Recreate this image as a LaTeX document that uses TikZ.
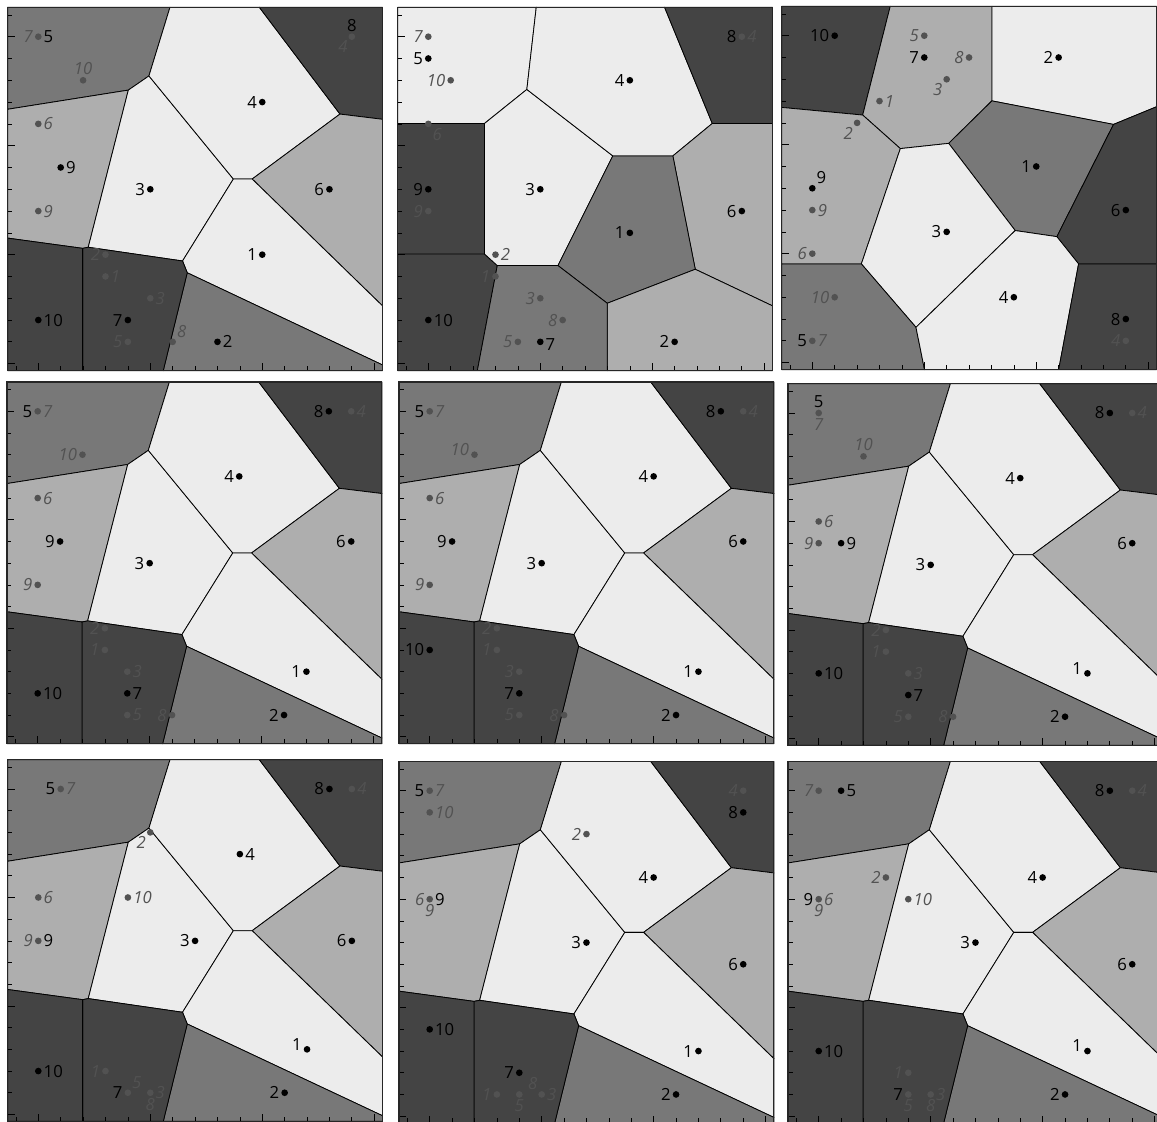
\documentclass[tikz,border=0pt]{standalone}
\usepackage{fontspec}
\setsansfont{Open Sans}
\definecolor{cW}{HTML}{ECECEC}
\definecolor{cL}{HTML}{AEAEAE}
\definecolor{cM}{HTML}{787878}
\definecolor{cD}{HTML}{444444}
\definecolor{gcol}{HTML}{525252}
\tikzset{
  reg/.style={draw=black, line width=0.45pt, line join=round},
  frm/.style={draw=black!85, line width=0.6pt},
  tk/.style={draw=black, line width=0.4pt},
  bd/.style={circle, fill=black, inner sep=0pt, minimum size=3.8pt},
  gd/.style={circle, fill=gcol, inner sep=0pt, minimum size=3.8pt},
  bl/.style={font=\sffamily\fontsize{9.5}{10}\selectfont, text=black, inner sep=0.8pt},
  gl/.style={font=\sffamily\itshape\fontsize{9.5}{10}\selectfont, text=gcol, inner sep=0.8pt},
  ul/.style={yshift=3pt},
}
\newcommand{\sharedpart}{%
 \filldraw[reg,fill=cM] (-1.37,-1.35) -- (5.88,-1.35) -- (4.94,1.80) -- (4.02,2.45) -- (-1.37,3.33) -- cycle;
 \filldraw[reg,fill=cL] (-1.37,3.33) -- (4.02,2.45) -- (2.23,9.66) -- (1.98,9.71) -- (-1.37,9.24) -- cycle;
 \filldraw[reg,fill=cW] (4.02,2.45) -- (4.94,1.80) -- (8.71,6.53) -- (6.44,10.29) -- (2.23,9.66) -- cycle;
 \filldraw[reg,fill=cW] (4.94,1.80) -- (5.88,-1.35) -- (9.87,-1.35) -- (13.47,3.55) -- (9.55,6.53) -- (8.71,6.53) -- cycle;
 \filldraw[reg,fill=cD] (9.87,-1.35) -- (15.37,-1.35) -- (15.37,3.79) -- (13.47,3.55) -- cycle;
 \filldraw[reg,fill=cL] (13.47,3.55) -- (15.37,3.79) -- (15.37,12.35) -- (9.55,6.53) -- cycle;
 \filldraw[reg,fill=cW] (8.71,6.53) -- (9.55,6.53) -- (15.37,12.35) -- (15.37,15.06) -- (6.65,10.83) -- (6.44,10.29) -- cycle;
 \filldraw[reg,fill=cM] (6.65,10.83) -- (15.37,15.06) -- (15.37,15.32) -- (5.58,15.32) -- cycle;
 \filldraw[reg,fill=cD] (1.98,9.71) -- (2.23,9.66) -- (6.44,10.29) -- (6.65,10.83) -- (5.58,15.32) -- (1.98,15.32) -- cycle;
 \filldraw[reg,fill=cD] (-1.37,9.24) -- (1.98,9.71) -- (1.98,15.32) -- (-1.37,15.32) -- cycle;
}
\newcommand{\framing}{%
 \foreach \t in {-1,...,15}{\draw[tk] (-1.37,\t) -- ++(0.2,0); \draw[tk] (\t,15.32) -- ++(0,-0.22);}
 \foreach \t in {0,5,10,15}{\draw[tk] (-1.37,\t) -- ++(0.32,0); \draw[tk] (\t,15.32) -- ++(0,-0.34);}
 \draw[frm] (-1.37,-1.35) rectangle (15.37,15.32);
}
\begin{document}
\begin{tikzpicture}[x=0.02cm, y=-0.02cm]
\useasboundingbox (0,0) rectangle (1157,1122);
\fill[white] (0,0) rectangle (1157,1122);

% ---------------- Panel 1
\begin{scope}[shift={(38.3,36.7)}, x=0.448cm, y=-0.436cm]
\sharedpart
\framing
\node[gd, label={[gl]left:7}, label={[bl]right:5}] (p1b5) at (0,0) {};
\node[gd, label={[gl]above:10}] (p1g10) at (2,2) {};
\node[gd, label={[gl]right:6}] (p1g6) at (0,4) {};
\node[bd, label={[bl]right:9}] (p1b9) at (1,6) {};
\node[gd, label={[gl]right:9}] (p1g9) at (0,8) {};
\node[bd, label={[bl]left:3}] (p1b3) at (5,7) {};
\node[bd, label={[bl]left:4}] (p1b4) at (10,3) {};
\node[bd, label={[bl]left:6}] (p1b6) at (13,7) {};
\node[bd, label={[bl]left:1}] (p1b1) at (10,10) {};
\node[gd, label={[bl]above:8}, label={[gl]below left:4}] (p1b8) at (14,0) {};
\node[gd, label={[gl]left:2}] (p1g2) at (3,10) {};
\node[gd, label={[gl]right:1}] (p1g1) at (3,11) {};
\node[gd, label={[gl]right:3}] (p1g3) at (5,12) {};
\node[bd, label={[bl]left:7}] (p1b7) at (4,13) {};
\node[gd, label={[gl]left:5}] (p1g5) at (4,14) {};
\node[gd, label={[gl]above right:8}] (p1g8) at (6,14) {};
\node[bd, label={[bl]right:2}] (p1b2) at (8,14) {};
\node[bd, label={[bl]right:10}] (p1b10) at (0,13) {};
\end{scope}

% ---------------- Panel 2
\begin{scope}[shift={(428.3,36.7)}, x=0.448cm, y=-0.436cm]
\filldraw[reg,fill=cW] (-1.37,-1.35) -- (4.82,-1.35) -- (4.40,2.42) -- (2.51,3.98) -- (-1.37,3.98) -- cycle;
\filldraw[reg,fill=cD] (-1.37,3.98) -- (2.51,3.98) -- (2.51,9.97) -- (-1.37,9.97) -- cycle;
\filldraw[reg,fill=cD] (-1.37,9.97) -- (2.51,9.97) -- (3.08,10.5) -- (2.19,15.32) -- (-1.37,15.32) -- cycle;
\filldraw[reg,fill=cW] (2.51,3.98) -- (4.40,2.42) -- (8.24,5.47) -- (5.79,10.5) -- (3.08,10.5) -- (2.51,9.97) -- cycle;
\filldraw[reg,fill=cW] (4.82,-1.35) -- (10.55,-1.35) -- (12.68,3.98) -- (10.92,5.47) -- (8.24,5.47) -- (4.40,2.42) -- cycle;
\filldraw[reg,fill=cD] (10.55,-1.35) -- (15.37,-1.35) -- (15.37,3.98) -- (12.68,3.98) -- cycle;
\filldraw[reg,fill=cL] (12.68,3.98) -- (15.37,3.98) -- (15.37,12.35) -- (11.92,10.67) -- (10.92,5.47) -- cycle;
\filldraw[reg,fill=cM] (8.24,5.47) -- (10.92,5.47) -- (11.92,10.67) -- (7.99,12.23) -- (5.79,10.5) -- cycle;
\filldraw[reg,fill=cL] (7.99,12.23) -- (11.92,10.67) -- (15.37,12.35) -- (15.37,15.32) -- (7.99,15.32) -- cycle;
\filldraw[reg,fill=cM] (3.08,10.5) -- (5.79,10.5) -- (7.99,12.23) -- (7.99,15.32) -- (2.19,15.32) -- cycle;
\framing
\node[gd, label={[gl]left:7}] (p2g7) at (0,0) {};
\node[bd, label={[bl]left:5}] (p2b5) at (0,1) {};
\node[gd, label={[gl]left:10}] (p2g10) at (1,2) {};
\node[gd, label={[gl]below right:6}] (p2g6) at (0,4) {};
\node[bd, label={[bl]left:9}] (p2b9) at (0,7) {};
\node[gd, label={[gl]left:9}] (p2g9) at (0,8) {};
\node[bd, label={[bl]left:3}] (p2b3) at (5,7) {};
\node[bd, label={[bl]left:4}] (p2b4) at (9,2) {};
\node[gd, label={[bl]left:8}, label={[gl]right:4}] (p2b8) at (14,0) {};
\node[bd, label={[bl]left:6}] (p2b6) at (14,8) {};
\node[bd, label={[bl]left:1}] (p2b1) at (9,9) {};
\node[gd, label={[gl]right:2}] (p2g2) at (3,10) {};
\node[gd, label={[gl]left:1}] (p2g1) at (3,11) {};
\node[gd, label={[gl]left:3}] (p2g3) at (5,12) {};
\node[gd, label={[gl]left:8}] (p2g8) at (6,13) {};
\node[bd, label={[bl]right:10}] (p2b10) at (0,13) {};
\node[gd, label={[gl]left:5}] (p2g5) at (4,14) {};
\node[bd, label={[bl,yshift=-1.5pt]right:7}] (p2b7) at (5,14) {};
\node[bd, label={[bl]left:2}] (p2b2) at (11,14) {};
\end{scope}

% ---------------- Panel 3
\begin{scope}[shift={(812.3,35.7)}, x=0.448cm, y=-0.436cm]
\filldraw[reg,fill=cD] (-1.37,-1.35) -- (3.48,-1.35) -- (2.25,3.64) -- (-1.37,3.29) -- cycle;
\filldraw[reg,fill=cL] (3.48,-1.35) -- (8.02,-1.35) -- (8.02,2.99) -- (6.09,4.94) -- (3.93,5.18) -- (2.25,3.64) -- cycle;
\filldraw[reg,fill=cW] (8.02,-1.35) -- (15.37,-1.35) -- (15.37,3.26) -- (13.45,4.07) -- (8.02,2.99) -- cycle;
\filldraw[reg,fill=cL] (-1.37,3.29) -- (2.25,3.64) -- (3.93,5.18) -- (2.19,10.47) -- (-1.37,10.47) -- cycle;
\filldraw[reg,fill=cM] (6.09,4.94) -- (8.02,2.99) -- (13.45,4.07) -- (10.92,9.22) -- (9.06,8.94) -- cycle;
\filldraw[reg,fill=cD] (13.45,4.07) -- (15.37,3.26) -- (15.37,10.47) -- (11.89,10.47) -- (10.92,9.22) -- cycle;
\filldraw[reg,fill=cW] (3.93,5.18) -- (6.09,4.94) -- (9.06,8.94) -- (4.63,13.38) -- (2.19,10.47) -- cycle;
\filldraw[reg,fill=cM] (-1.37,10.47) -- (2.19,10.47) -- (4.63,13.38) -- (5.01,15.32) -- (-1.37,15.32) -- cycle;
\filldraw[reg,fill=cW] (4.63,13.38) -- (9.06,8.94) -- (10.92,9.22) -- (11.89,10.47) -- (11.0,15.32) -- (5.01,15.32) -- cycle;
\filldraw[reg,fill=cD] (11.89,10.47) -- (15.37,10.47) -- (15.37,15.32) -- (11.0,15.32) -- cycle;
\framing
\node[bd, label={[bl]left:10}] (p3b10) at (1,0) {};
\node[gd, label={[gl]left:5}] (p3g5) at (5,0) {};
\node[bd, label={[bl]left:7}] (p3b7) at (5,1) {};
\node[gd, label={[gl]left:8}] (p3g8) at (7,1) {};
\node[gd, label={[gl]below left:3}] (p3g3) at (6,2) {};
\node[gd, label={[gl]right:1}] (p3g1) at (3,3) {};
\node[gd, label={[gl]below left:2}] (p3g2) at (2,4) {};
\node[bd, label={[bl]left:2}] (p3b2) at (11,1) {};
\node[bd, label={[bl]left:1}] (p3b1) at (10,6) {};
\node[bd, label={[bl]above right:9}] (p3b9) at (0,7) {};
\node[gd, label={[gl]right:9}] (p3g9) at (0,8) {};
\node[gd, label={[gl]left:6}] (p3g6) at (0,10) {};
\node[bd, label={[bl]left:3}] (p3b3) at (6,9) {};
\node[bd, label={[bl]left:6}] (p3b6) at (14,8) {};
\node[bd, label={[bl]left:4}] (p3b4) at (9,12) {};
\node[gd, label={[gl]left:10}] (p3g10) at (1,12) {};
\node[gd, label={[bl]left:5}, label={[gl]right:7}] (p3b5) at (0,14) {};
\node[bd, label={[bl]left:8}] (p3b8) at (14,13) {};
\node[gd, label={[gl]left:4}] (p3g4) at (14,14) {};
\end{scope}

% ---------------- Panel 4
\begin{scope}[shift={(37.7,411.3)}, x=0.448cm, y=-0.434cm]
\sharedpart
\framing
\node[gd, label={[bl]left:5}, label={[gl]right:7}] (p4b5) at (0,0) {};
\node[gd, label={[gl]left:10}] (p4g10) at (2,2) {};
\node[bd, label={[bl]left:8}] (p4b8) at (13,0) {};
\node[gd, label={[gl]right:4}] (p4g4) at (14,0) {};
\node[bd, label={[bl]left:4}] (p4b4) at (9,3) {};
\node[gd, label={[gl]right:6}] (p4g6) at (0,4) {};
\node[bd, label={[bl]left:9}] (p4b9) at (1,6) {};
\node[bd, label={[bl]left:3}] (p4b3) at (5,7) {};
\node[gd, label={[gl]left:9}] (p4g9) at (0,8) {};
\node[bd, label={[bl]left:6}] (p4b6) at (14,6) {};
\node[gd, label={[gl]left:2}] (p4g2) at (3,10) {};
\node[gd, label={[gl]left:1}] (p4g1) at (3,11) {};
\node[gd, label={[gl]right:3}] (p4g3) at (4,12) {};
\node[bd, label={[bl]right:7}] (p4b7) at (4,13) {};
\node[gd, label={[gl]right:5}] (p4g5) at (4,14) {};
\node[gd, label={[gl]left:8}] (p4g8) at (6,14) {};
\node[bd, label={[bl]right:10}] (p4b10) at (0,13) {};
\node[bd, label={[bl]left:1}] (p4b1) at (12,12) {};
\node[bd, label={[bl]left:2}] (p4b2) at (11,14) {};
\end{scope}

% ---------------- Panel 5
\begin{scope}[shift={(429.7,411.3)}, x=0.448cm, y=-0.434cm]
\sharedpart
\framing
\node[gd, label={[bl]left:5}, label={[gl]right:7}] (p5b5) at (0,0) {};
\node[gd, label={[gl,ul]left:10}] (p5g10) at (2,2) {};
\node[bd, label={[bl]left:8}] (p5b8) at (13,0) {};
\node[gd, label={[gl]right:4}] (p5g4) at (14,0) {};
\node[bd, label={[bl]left:4}] (p5b4) at (10,3) {};
\node[gd, label={[gl]right:6}] (p5g6) at (0,4) {};
\node[bd, label={[bl]left:9}] (p5b9) at (1,6) {};
\node[bd, label={[bl]left:3}] (p5b3) at (5,7) {};
\node[gd, label={[gl]left:9}] (p5g9) at (0,8) {};
\node[bd, label={[bl]left:6}] (p5b6) at (14,6) {};
\node[bd, label={[bl]left:10}] (p5b10) at (0,11) {};
\node[gd, label={[gl]left:2}] (p5g2) at (3,10) {};
\node[gd, label={[gl]left:1}] (p5g1) at (3,11) {};
\node[gd, label={[gl]left:3}] (p5g3) at (4,12) {};
\node[bd, label={[bl]left:7}] (p5b7) at (4,13) {};
\node[gd, label={[gl]left:5}] (p5g5) at (4,14) {};
\node[gd, label={[gl]left:8}] (p5g8) at (6,14) {};
\node[bd, label={[bl]left:1}] (p5b1) at (12,12) {};
\node[bd, label={[bl]left:2}] (p5b2) at (11,14) {};
\end{scope}

% ---------------- Panel 6
\begin{scope}[shift={(818.7,413)}, x=0.448cm, y=-0.434cm]
\sharedpart
\framing
\node[gd, label={[bl]above:5}, label={[gl]below:7}] (p6b5) at (0,0) {};
\node[gd, label={[gl]above:10}] (p6g10) at (2,2) {};
\node[bd, label={[bl]left:8}] (p6b8) at (13,0) {};
\node[gd, label={[gl]right:4}] (p6g4) at (14,0) {};
\node[bd, label={[bl]left:4}] (p6b4) at (9,3) {};
\node[gd, label={[gl]right:6}] (p6g6) at (0,5) {};
\node[gd, label={[gl]left:9}] (p6g9) at (0,6) {};
\node[bd, label={[bl]right:9}] (p6b9) at (1,6) {};
\node[bd, label={[bl]left:3}] (p6b3) at (5,7) {};
\node[bd, label={[bl]left:6}] (p6b6) at (14,6) {};
\node[gd, label={[gl]left:2}] (p6g2) at (3,10) {};
\node[gd, label={[gl]left:1}] (p6g1) at (3,11) {};
\node[gd, label={[gl]right:3}] (p6g3) at (4,12) {};
\node[bd, label={[bl]right:7}] (p6b7) at (4,13) {};
\node[gd, label={[gl]left:5}] (p6g5) at (4,14) {};
\node[gd, label={[gl]left:8}] (p6g8) at (6,14) {};
\node[bd, label={[bl]right:10}] (p6b10) at (0,12) {};
\node[bd, label={[bl,ul]left:1}] (p6b1) at (12,12) {};
\node[bd, label={[bl]left:2}] (p6b2) at (11,14) {};
\end{scope}

% ---------------- Panel 7
\begin{scope}[shift={(38.3,789)}, x=0.448cm, y=-0.434cm]
\sharedpart
\framing
\node[gd, label={[bl]left:5}, label={[gl]right:7}] (p7b5) at (1,0) {};
\node[gd, label={[gl]below left:2}] (p7g2) at (5,2) {};
\node[gd, label={[gl]right:10}] (p7g10) at (4,5) {};
\node[bd, label={[bl]right:4}] (p7b4) at (9,3) {};
\node[bd, label={[bl]left:3}] (p7b3) at (7,7) {};
\node[gd, label={[gl]right:6}] (p7g6) at (0,5) {};
\node[gd, label={[gl]left:9}, label={[bl]right:9}] (p7b9) at (0,7) {};
\node[bd, label={[bl]left:8}] (p7b8) at (13,0) {};
\node[gd, label={[gl]right:4}] (p7g4) at (14,0) {};
\node[bd, label={[bl]left:6}] (p7b6) at (14,7) {};
\node[bd, label={[bl,ul]left:1}] (p7b1) at (12,12) {};
\node[bd, label={[bl]left:2}] (p7b2) at (11,14) {};
\node[bd, label={[bl]right:10}] (p7b10) at (0,13) {};
\node[gd, label={[gl]left:1}] (p7g1) at (3,13) {};
\node[gd, label={[bl]left:7}, label={[gl]above right:5}] (p7b7) at (4,14) {};
\node[gd, label={[gl]right:3}, label={[gl]below:8}] (p7g3) at (5,14) {};
\end{scope}

% ---------------- Panel 8
\begin{scope}[shift={(429.7,790.7)}, x=0.448cm, y=-0.434cm]
\sharedpart
\framing
\node[gd, label={[bl]left:5}, label={[gl]right:7}] (p8b5) at (0,0) {};
\node[gd, label={[gl]right:10}] (p8g10) at (0,1) {};
\node[gd, label={[gl]left:4}] (p8g4) at (14,0) {};
\node[bd, label={[bl]left:8}] (p8b8) at (14,1) {};
\node[gd, label={[gl]left:2}] (p8g2) at (7,2) {};
\node[bd, label={[bl]left:4}] (p8b4) at (10,4) {};
\node[gd, label={[gl]left:6}, label={[bl]right:9}, label={[gl]below:9}] (p8b9) at (0,5) {};
\node[bd, label={[bl]left:3}] (p8b3) at (7,7) {};
\node[bd, label={[bl]left:6}] (p8b6) at (14,8) {};
\node[bd, label={[bl]right:10}] (p8b10) at (0,11) {};
\node[bd, label={[bl]left:1}] (p8b1) at (12,12) {};
\node[bd, label={[bl]left:7}] (p8b7) at (4,13) {};
\node[gd, label={[gl]left:1}] (p8g1) at (3,14) {};
\node[gd, label={[gl]below:5}] (p8g5) at (4,14) {};
\node[gd, label={[gl]above left:8}, label={[gl]right:3}] (p8g3) at (5,14) {};
\node[bd, label={[bl]left:2}] (p8b2) at (11,14) {};
\end{scope}

% ---------------- Panel 9
\begin{scope}[shift={(818.7,790.7)}, x=0.448cm, y=-0.434cm]
\sharedpart
\framing
\node[gd, label={[gl]left:7}] (p9g7) at (0,0) {};
\node[bd, label={[bl]right:5}] (p9b5) at (1,0) {};
\node[bd, label={[bl]left:8}] (p9b8) at (13,0) {};
\node[gd, label={[gl]right:4}] (p9g4) at (14,0) {};
\node[gd, label={[gl]left:2}] (p9g2) at (3,4) {};
\node[bd, label={[bl]left:4}] (p9b4) at (10,4) {};
\node[gd, label={[bl]left:9}, label={[gl]right:6}, label={[gl]below:9}] (p9b9) at (0,5) {};
\node[gd, label={[gl]right:10}] (p9g10) at (4,5) {};
\node[bd, label={[bl]left:3}] (p9b3) at (7,7) {};
\node[bd, label={[bl]left:6}] (p9b6) at (14,8) {};
\node[bd, label={[bl]right:10}] (p9b10) at (0,12) {};
\node[bd, label={[bl,ul]left:1}] (p9b1) at (12,12) {};
\node[gd, label={[gl]left:1}] (p9g1) at (4,13) {};
\node[gd, label={[bl]left:7}, label={[gl]below:5}] (p9b7) at (4,14) {};
\node[gd, label={[gl]below:8}, label={[gl]right:3}] (p9g3) at (5,14) {};
\node[bd, label={[bl]left:2}] (p9b2) at (11,14) {};
\end{scope}
\end{tikzpicture}
\end{document}
